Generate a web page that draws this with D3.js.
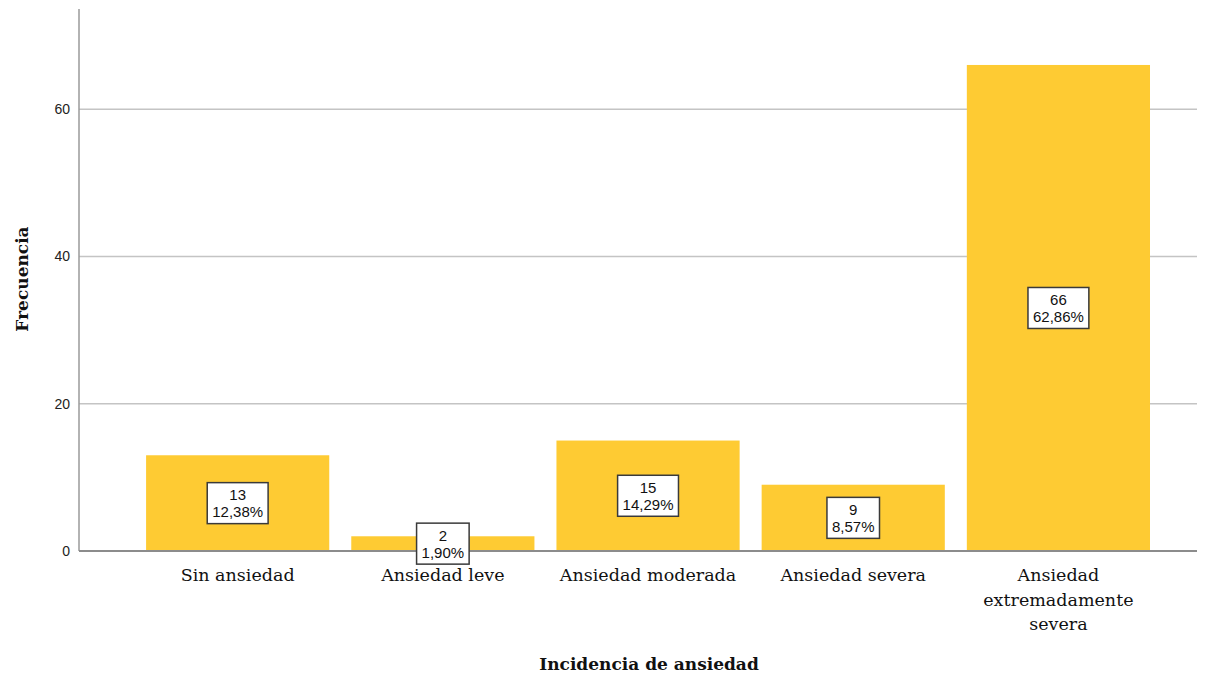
<!DOCTYPE html>
<html><head><meta charset="utf-8">
<script src="https://cdn.jsdelivr.net/npm/d3@7"></script>
<style>body{margin:0;background:#fff}svg{display:block}</style>
</head><body>
<svg id="c" width="1210" height="677"></svg>
<script>
const categories = [["Sin ansiedad"], ["Ansiedad leve"], ["Ansiedad moderada"], ["Ansiedad severa"], ["Ansiedad", "extremadamente", "severa"]];
const counts = [13, 2, 15, 9, 66];
const percents = ["12,38%", "1,90%", "14,29%", "8,57%", "62,86%"];
const yTicks = [0, 20, 40, 60];

(function () {
const svg = d3.select("#c");
const pL = 79, pR = 1197, pT = 9, pB = 551;
const keys = categories.map(c => c.join(" "));
const x = d3.scaleBand().domain(keys).range([pL, pR])
  .paddingInner(22/205).paddingOuter(0.278).align(0.588);
const y = d3.scaleLinear().domain([0, 73.6]).range([pB, pT]);

svg.append("g").selectAll("line").data(yTicks.filter(d => d > 0)).join("line")
  .attr("x1", pL).attr("x2", pR).attr("y1", d => y(d)).attr("y2", d => y(d))
  .attr("stroke", "#c4c4c4").attr("stroke-width", 1.5);

svg.append("g").selectAll("text").data(yTicks).join("text")
  .attr("x", 70).attr("y", d => y(d)).attr("dy", "0.36em")
  .attr("text-anchor", "end").attr("font-family", "Liberation Sans, Arial").attr("font-size", 14)
  .attr("fill", "#222").text(d => d);

svg.append("g").selectAll("rect").data(counts).join("rect")
  .attr("x", (d, i) => x(keys[i])).attr("width", x.bandwidth())
  .attr("y", d => y(d)).attr("height", d => y(0) - y(d))
  .attr("fill", "#fecb33");

svg.append("line").attr("x1", pL).attr("x2", pL).attr("y1", pT).attr("y2", pB)
  .attr("stroke", "#9a9a9a").attr("stroke-width", 1.5);
svg.append("line").attr("x1", pL).attr("x2", pR).attr("y1", pB).attr("y2", pB)
  .attr("stroke", "#8c8c8c").attr("stroke-width", 2);

const lg = svg.append("g");
counts.forEach((d, i) => {
  const cx = x(keys[i]) + x.bandwidth() / 2;
  const cy = (y(d) + y(0)) / 2;
  const g = lg.append("g");
  const rect = g.append("rect").attr("fill", "#fff").attr("stroke", "#3a3a3a").attr("stroke-width", 1.5);
  const t = g.append("text").attr("text-anchor", "middle").attr("font-family", "Liberation Sans, Arial")
    .attr("font-size", 15).attr("fill", "#111");
  t.append("tspan").attr("x", cx).attr("y", cy - 3).text(d);
  t.append("tspan").attr("x", cx).attr("y", cy + 14).text(percents[i]);
  const w = t.node().getBBox().width + 10;
  rect.attr("x", cx - w / 2).attr("y", cy - 20.5).attr("width", w).attr("height", 41);
});

const xl = svg.append("g");
categories.forEach((lines, i) => {
  const cx = x(keys[i]) + x.bandwidth() / 2;
  const t = xl.append("text").attr("text-anchor", "middle").attr("font-family", "DejaVu Serif")
    .attr("font-size", 17.5).attr("fill", "#111");
  lines.forEach((l, j) => t.append("tspan").attr("x", cx).attr("y", 581 + j * 24.5).text(l));
});

svg.append("text").attr("x", 649).attr("y", 670).attr("text-anchor", "middle")
  .attr("font-family", "DejaVu Serif").attr("font-weight", "bold").attr("font-size", 17)
  .attr("fill", "#111").text("Incidencia de ansiedad");
svg.append("text").attr("transform", "translate(28,279) rotate(-90)").attr("text-anchor", "middle")
  .attr("font-family", "DejaVu Serif").attr("font-weight", "bold").attr("font-size", 17)
  .attr("fill", "#111").text("Frecuencia");
})();
</script>
</body></html>
